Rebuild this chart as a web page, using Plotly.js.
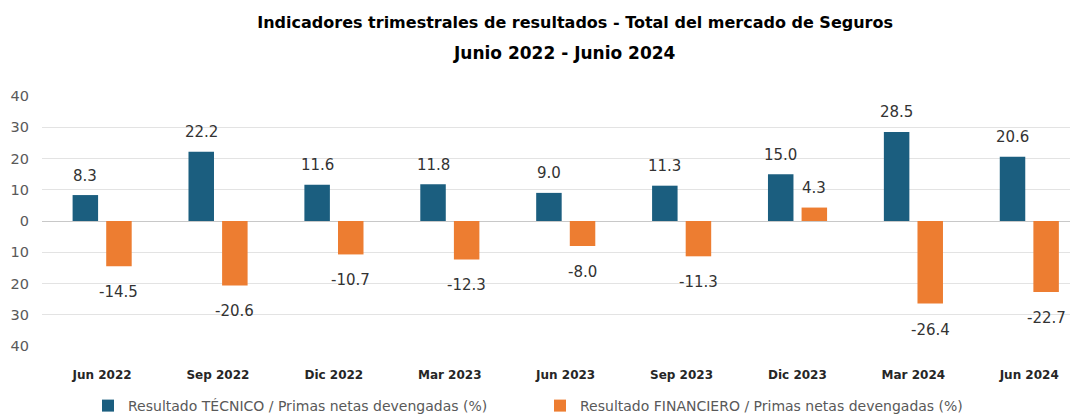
<!DOCTYPE html>
<html><head><meta charset="utf-8">
<script src="https://cdn.plot.ly/plotly-3.0.1.min.js"></script>
<style>body{margin:0;background:#fff}#chart{width:1075px;height:417px}</style>
</head><body><div id="chart"></div>
<script>
const categories = ['Jun 2022','Sep 2022','Dic 2022','Mar 2023','Jun 2023','Sep 2023','Dic 2023','Mar 2024','Jun 2024'];
const tecnico = [8.3, 22.2, 11.6, 11.8, 9.0, 11.3, 15.0, 28.5, 20.6];
const financiero = [-14.5, -20.6, -10.7, -12.3, -8.0, -11.3, 4.3, -26.4, -22.7];
const yTickVals = [-40,-30,-20,-10,0,10,20,30,40];
const yTickText = ['40','30','20','10','0','10','20','30','40'];
const seriesNames = ['Resultado TÉCNICO / Primas netas devengadas (%)','Resultado FINANCIERO / Primas netas devengadas (%)'];

const FONT = '"DejaVu Sans", sans-serif';
const COLORS = ['#1B5E7F', '#ED7D31'];
const BAR_W = 0.22;
const CENTER_OFF = [-0.144, 0.146];
const xIdx = categories.map((c,i)=>i);
const labelFont = {family:FONT, size:15, color:'#333333'};

const traces = [tecnico, financiero].map((vals, s) => ({
  type:'bar', x:xIdx, y:vals, name:seriesNames[s], width:BAR_W, offset:CENTER_OFF[s]-BAR_W/2,
  marker:{color:COLORS[s]}, hoverinfo:'skip'
}));

const labelAnns = [];
[tecnico, financiero].forEach((vals, s) => {
  vals.forEach((v, i) => {
    labelAnns.push({
      xref:'x', yref:'y', x:i + CENTER_OFF[s], y:v, text:v.toFixed(1), showarrow:false,
      xanchor:'center', yanchor:'middle', yshift: v >= 0 ? 19.5 : -26, font:labelFont
    });
  });
});

const layout = {
  width:1075, height:417,
  margin:{l:42, r:5, t:96, b:71, autoexpand:false},
  paper_bgcolor:'#fff', plot_bgcolor:'#fff',
  barmode:'overlay',
  showlegend:true,
  title:{text:'<b>Indicadores trimestrales de resultados - Total del mercado de Seguros</b>',
    font:{family:FONT, size:16, color:'#000'},
    x:0.535, xanchor:'center', yref:'container', y:1-22/417, yanchor:'middle'},
  annotations:[{text:'<b>Junio 2022 - Junio 2024</b>', xref:'paper', yref:'paper',
    x:0.508, y:(346-53)/250, xanchor:'center', yanchor:'middle', showarrow:false,
    font:{family:FONT, size:17, color:'#000'}}].concat(labelAnns),
  xaxis:{range:[-0.518,8.352], tickvals:xIdx, ticktext:categories.map(c=>'<b>'+c+'</b>'),
    showgrid:false, zeroline:false, showline:false, ticks:'', automargin:false,
    tickfont:{family:FONT, size:12, color:'#262626'}, ticklabelstandoff:20},
  yaxis:{range:[-40,40], tickvals:yTickVals, ticktext:yTickText, showgrid:true, automargin:false,
    gridcolor:'#E3E3E3', gridwidth:1, zeroline:true, zerolinecolor:'#C8C8C8', zerolinewidth:1,
    tickfont:{family:FONT, size:14.5, color:'#595959'}, ticks:'', showline:false, ticklabelstandoff:12},
  legend:{orientation:'h', xref:'container', x:88/1075, xanchor:'left', yref:'container', y:1-406/417, yanchor:'middle',
    entrywidth:407, entrywidthmode:'pixels', itemwidth:30, tracegroupgap:0,
    font:{family:FONT, size:14, color:'#595959'}}
};
Plotly.newPlot('chart', traces, layout, {displayModeBar:false, staticPlot:true});
</script></body></html>
